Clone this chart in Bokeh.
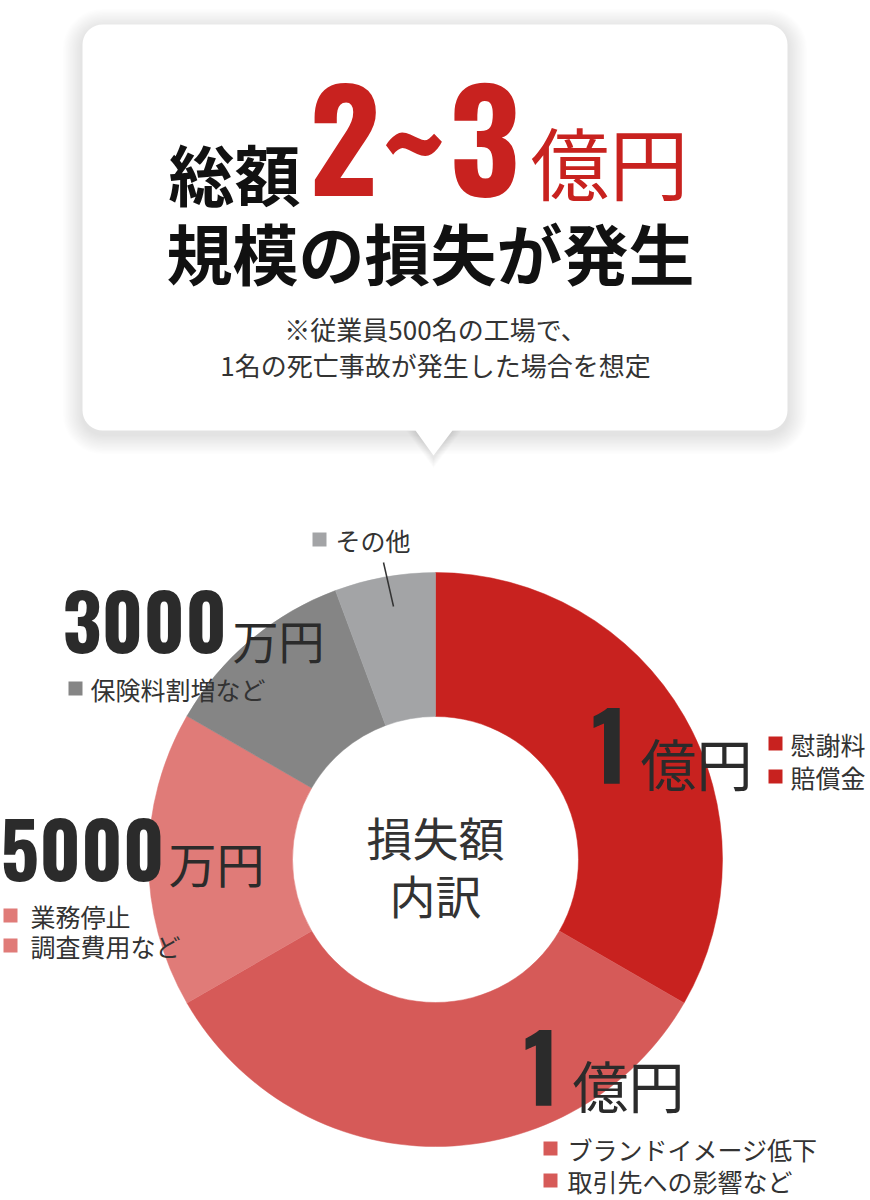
import numpy as np
from bokeh.plotting import figure
from bokeh.models import Range1d
from bokeh.core.properties import value
from bokeh.embed import file_html
from bokeh.resources import INLINE

# ---------------- data ----------------
categories = ["慰謝料・賠償金", "ブランドイメージ低下・取引先への影響など",
              "業務停止・調査費用など", "保険料割増など", "その他"]
values_man_yen = [10000, 10000, 5000, 3300, 1700]
amount_numbers = ["1", "1", "5000", "3000", ""]
amount_units = ["億円", "億円", "万円", "万円", ""]
legend_lines = [["慰謝料", "賠償金"], ["ブランドイメージ低下", "取引先への影響など"],
                ["業務停止", "調査費用など"], ["保険料割増など"], ["その他"]]
colors = ["#c8221f", "#d65a58", "#e07b78", "#858585", "#a3a4a6"]

headline_top = ["総額", "2", "~", "3", "億円"]
headline_bottom = "規模の損失が発生"
note_lines = ["※従業員500名の工場で、", "1名の死亡事故が発生した場合を想定"]
center_lines = ["損失額", "内訳"]

JP = "Noto Sans CJK JP"
NUM = "Oswald, 'Open Sans Condensed', 'Roboto Condensed', sans-serif"
DARK = "#2b2b2b"
TXT = "#333333"
RED = "#c8221f"
BASE_SHIFT = 0.44  # em offset of the numeral baseline as rendered

W, H = 870, 1200
p = figure(width=W, height=H, output_backend="svg", toolbar_location=None,
           x_range=Range1d(0, W), y_range=Range1d(-H, 0),
           min_border=0, outline_line_color=None)
p.axis.visible = False
p.grid.visible = False
p.background_fill_color = "white"
p.border_fill_color = "white"


def Y(v):
    if isinstance(v, (list, tuple)):
        return [-t for t in v]
    return -v


def rounded_rect(x0, y0, x1, y1, r, notch=None, n=10):
    xs, ys = [], []
    corners = [(x1 - r, y0 + r, -90, 0), (x1 - r, y1 - r, 0, 90),
               (x0 + r, y1 - r, 90, 180), (x0 + r, y0 + r, 180, 270)]
    for i, (cx, cy, a0, a1) in enumerate(corners):
        for a in np.linspace(np.radians(a0), np.radians(a1), n):
            xs.append(cx + r * np.cos(a))
            ys.append(cy + r * np.sin(a))
        if i == 1 and notch is not None:
            for (nx, ny) in notch:
                xs.append(nx)
                ys.append(ny)
    return xs, [-y for y in ys]


# ---------------- speech bubble ----------------
bx0, by0, bx1, by1, br = 82, 24, 787, 430, 20
for k in range(14, 0, -1):
    e = k * 1.4
    xs, ys = rounded_rect(bx0 - e, by0 - e + 4, bx1 + e, by1 + e + 4, br + e)
    p.patch(xs, ys, fill_color="#000000", fill_alpha=0.008, line_color=None)
for k in range(8, 0, -1):
    e = k * 1.2
    p.patch([415 - e, 433, 452 + e], Y([430, 455 + e + 3, 430]),
            fill_color="#000000", fill_alpha=0.011, line_color=None)
notch = [(452, by1), (433, 455), (415, by1)]
xs, ys = rounded_rect(bx0, by0, bx1, by1, br, notch=notch)
p.patch(xs, ys, fill_color="white", line_color=None)

# headline line 1
p.text(x=[168], y=Y([171]), text=[headline_top[0]], text_font=value(JP),
       text_font_style="bold", text_font_size=value("66px"), text_color="#111111",
       text_align="left", text_baseline="middle")
hs = 137
p.text(x=[344, 413, 484], y=Y([200 - BASE_SHIFT * hs] * 3), text=headline_top[1:4],
       text_font=value(NUM), text_font_style="bold", text_font_size=value(f"{hs}px"),
       text_color=RED, text_align="center", text_baseline="alphabetic")
p.text(x=[530], y=Y([160]), text=[headline_top[4]], text_font=value(JP),
       text_font_size=value("79px"), text_color=RED,
       text_align="left", text_baseline="middle")
# headline line 2
p.text(x=[166], y=Y([250]), text=[headline_bottom], text_font=value(JP),
       text_font_style="bold", text_font_size=value("66px"), text_color="#111111",
       text_align="left", text_baseline="middle")
# note
p.text(x=[435, 435], y=Y([328, 364]), text=note_lines, text_font=value(JP),
       text_font_size=value("26px"), text_color=TXT,
       text_align="center", text_baseline="middle")

# ---------------- donut ----------------
cx, cy, r_out, r_in = 435, 859, 287, 143
total = float(sum(values_man_yen))
cum = np.concatenate([[0.0], np.cumsum(values_man_yen) / total])
starts = [np.pi / 2 - 2 * np.pi * c for c in cum[:-1]]
ends = [np.pi / 2 - 2 * np.pi * c for c in cum[1:]]
p.annular_wedge(x=[cx] * len(values_man_yen), y=[Y(cy)] * len(values_man_yen),
                inner_radius=r_in, outer_radius=r_out,
                start_angle=starts, end_angle=ends, direction="clock",
                fill_color=colors, line_color=colors, line_width=0.5)

# center label
p.text(x=[cx, cx], y=Y([835, 893]), text=center_lines, text_font=value(JP),
       text_font_size=value("46px"), text_color=TXT,
       text_align="center", text_baseline="middle")

# ---------------- amount labels ----------------
# (number x, align, number ink-bottom y, number size, unit left x, unit center y, unit size)
amount_layout = [
    (609, "center", 787, 94, 640, 761, 56),
    (541, "center", 1108, 93, 572, 1083, 56),
    (0, "left", 883, 76, 168, 861, 48),
    (62, "left", 655, 76, 232, 638, 46),
]
for i, (nx, al, ny, ns, ux, uy, us) in enumerate(amount_layout):
    p.text(x=[nx], y=Y([ny - BASE_SHIFT * ns]), text=[amount_numbers[i]],
           text_font=value(NUM), text_font_style="bold",
           text_font_size=value(f"{ns}px"), text_color=DARK,
           text_align=al, text_baseline="alphabetic")
    p.text(x=[ux], y=Y([uy]), text=[amount_units[i]], text_font=value(JP),
           text_font_size=value(f"{us}px"), text_color=DARK,
           text_align="left", text_baseline="middle")

# ---------------- legend items ----------------
legend_layout = [
    (775, 790, 743, 33),
    (550, 567, 1148, 32),
    (10, 30, 915, 30),
    (75, 90, 688, 0),
    (319, 335, 539, 0),
]
for i, (sqx, tx, ty, dy) in enumerate(legend_layout):
    lines = legend_lines[i]
    ys_ = [ty + k * dy for k in range(len(lines))]
    p.scatter(x=[sqx] * len(lines), y=Y(ys_), marker="square", size=14,
              fill_color=colors[i], line_color=None)
    p.text(x=[tx] * len(lines), y=Y(ys_), text=lines, text_font=value(JP),
           text_font_size=value("25px"), text_color=TXT,
           text_align="left", text_baseline="middle")

p.line(x=[383, 393], y=Y([562, 606]), line_color=TXT, line_width=1.5)

open("out.html", "w").write(file_html(p, INLINE))
